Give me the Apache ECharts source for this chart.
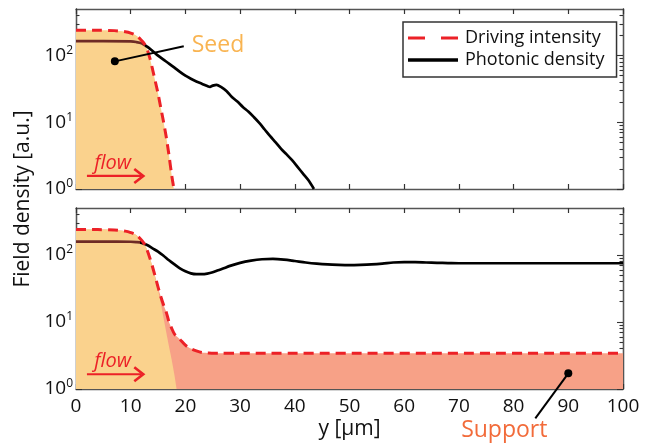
<!DOCTYPE html>
<html><head><meta charset="utf-8">
<script src="https://cdn.jsdelivr.net/npm/echarts@6/dist/echarts.min.js"></script>
<style>html,body{margin:0;padding:0;background:#fff}#c{width:651px;height:445px}</style>
</head><body><div id="c"></div>
<script>
// ---- data ----
const xTickLabels = [0,10,20,30,40,50,60,70,80,90,100];
const yMajorTicks = [1,10,100];
const yMinorTicks = [2,3,4,5,6,7,8,9,20,30,40,50,60,70,80,90,200,300,400];

// top panel: driving intensity (= seed)
const xDriveTop = [0,4,7,9,10,11,12,12.5,13,13.5,14,14.5,15,15.5,16,16.5,17,17.5,17.9];
const driveTop  = [240,240,237,228,218,200,168,150,125,92,62,41,27,16.5,10.2,6,3.2,1.6,1];

// top panel: photonic density
const xPhotTop = [0,5,10,11,12,13,14,15,16,17,18,19,20,21,22,23,24,24.5,25,25.7,26.5,27.5,28.5,29.5,30.5,31.5,32.5,33.5,34.5,35.5,36.5,37.5,38.5,39.5,40.5,41.5,42.5,43.5];
const photTop  = [165,165,163,160,153,136,117,100,87,76,66,57,50,45,41,38,35,34,35.5,36.5,34,29.5,24,20.5,17,14.5,12,9.8,7.8,6.2,5.0,4.0,3.3,2.7,2.15,1.7,1.35,1.0];

// bottom panel: driving intensity (seed + support)
const xDriveBot = [0,4,7,9,10,11,12,12.5,13,13.5,14,14.5,15,15.5,16,16.5,17,17.5,18,18.5,19,20,21,22,23,24,26,30,100];
const driveBot  = [238,238,235,226,215,198,165,145,118,90,66,47,33,24,18,14,10,8,6.6,6,5.5,4.5,4.0,3.7,3.5,3.45,3.4,3.4,3.4];

// bottom panel: seed part
const xSeedBot = [0,4,7,9,10,11,12,12.5,13,13.5,14,14.5,15,15.5,16,16.5,17,17.5,18,18.4];
const seedBot  = [238,238,235,226,215,198,165,145,118,90,66,45,30,19,11.5,7,4.3,2.7,1.6,1];

// bottom panel: photonic density
const xPhotBot = [0,5,10,11,12,13,14,15,16,17,18,19,20,21,22,23,24,25,26,27,28,30,32,34,36,38,40,42,44,46,48,50,52,54,56,58,60,62,64,66,68,70,80,90,100];
const photBot  = [158,158,157,155,151,140,125,112,97,83,72,63,57,53,51.5,51.5,52.5,55,59,63,68,76,82,86,87,85,81,77,74,72,71,70.5,71,72,74,77,78,78,77,76,75.5,75,75,75,75];

// x where the photonic line leaves the seed fill (line looks darker inside)
const seedEdgeTop = 12.8, seedEdgeBot = 12.1;

const FONT = '"Open Sans", "DejaVu Sans", sans-serif';
const pairs = (xs, ys) => xs.map((x, i) => [x, ys[i]]);

function xAx(grid, pos, showLabel) {
  return {
    type: 'value', gridIndex: grid, position: pos, min: 0, max: 100, interval: 10,
    axisLine: { show: true, onZero: false, lineStyle: { color: '#555', width: 1.3 } },
    axisTick: { show: true, inside: true, length: 5, lineStyle: { color: '#333', width: 1.2 } },
    axisLabel: { show: showLabel, fontSize: 19, color: '#111', margin: 8, fontFamily: FONT,
      formatter: v => xTickLabels.indexOf(v) >= 0 ? String(v) : '' },
    splitLine: { show: false }
  };
}
function yAx(grid, pos, major, showLabel) {
  return {
    type: 'log', logBase: 10, gridIndex: grid, position: pos, min: 1, max: 500,
    axisLine: { show: true, onZero: false, lineStyle: { color: '#555', width: 1.3 } },
    axisTick: { show: true, inside: true, length: major ? 6 : 3.5,
      customValues: major ? yMajorTicks : yMinorTicks,
      lineStyle: { color: '#333', width: 1.1 } },
    axisLabel: {
      show: showLabel, customValues: yMajorTicks, margin: 3, color: '#111', fontFamily: FONT,
      formatter: v => {
        const e = Math.round(Math.log10(v));
        if (Math.abs(Math.log10(v) - e) > 1e-6) return '';
        return '{b|10}{s|' + e + '}';
      },
      rich: {
        b: { fontSize: 19, fontFamily: FONT, color: '#111' },
        s: { fontSize: 12, fontFamily: FONT, color: '#111', padding: [0, 0, 10, 0] }
      }
    },
    splitLine: { show: false }
  };
}

const ORANGE = '#FAD28D', SALMON = '#F7A187', RED = '#EC2127', MAROON = '#6e2b25';
function splitColor(xs, edge) {
  const s = (edge - xs[0]) / (xs[xs.length - 1] - xs[0]);
  return new echarts.graphic.LinearGradient(0, 0, 1, 0, [
    { offset: 0, color: MAROON }, { offset: s, color: MAROON },
    { offset: s, color: '#000' }, { offset: 1, color: '#000' }
  ]);
}

const option = {
  animation: false,
  backgroundColor: '#fff',
  grid: [
    { left: 76, top: 9, width: 547, height: 180, containLabel: false, outerBoundsMode: 'none' },
    { left: 76, top: 208, width: 547, height: 181, containLabel: false, outerBoundsMode: 'none' }
  ],
  xAxis: [
    xAx(0, 'bottom', false), xAx(0, 'top', false),
    Object.assign(xAx(1, 'bottom', true), { name: 'y [μm]', nameLocation: 'middle', nameGap: 30,
      nameTextStyle: { fontSize: 21, fontFamily: FONT, color: '#111' } }),
    xAx(1, 'top', false)
  ],
  yAxis: [
    yAx(0, 'left', true, true), yAx(0, 'left', false, false),
    yAx(0, 'right', true, false), yAx(0, 'right', false, false),
    yAx(1, 'left', true, true), yAx(1, 'left', false, false),
    yAx(1, 'right', true, false), yAx(1, 'right', false, false)
  ],
  legend: {
    show: true, left: 403, top: 22, orient: 'vertical', selectedMode: false,
    data: [
      { name: 'Driving intensity', icon: 'none' },
      { name: 'Photonic density', icon: 'none' }
    ],
    itemWidth: 50, itemHeight: 14, itemGap: 2, padding: [6, 12, 7, 5],
    borderColor: '#333', borderWidth: 1.5, borderRadius: 0, backgroundColor: '#fff',
    textStyle: { fontSize: 18, fontFamily: FONT, color: '#111', lineHeight: 20, padding: [0, 0, 0, 2] }
  },
  series: [
    { type: 'line', xAxisIndex: 0, yAxisIndex: 0, data: pairs(xDriveTop, driveTop),
      smooth: 0.3, symbol: 'none', silent: true, lineStyle: { width: 0 },
      areaStyle: { color: ORANGE, opacity: 1 } },
    { type: 'line', name: 'Photonic density', xAxisIndex: 0, yAxisIndex: 0, data: pairs(xPhotTop, photTop),
      smooth: 0.3, symbol: 'none', showSymbol: false,
      lineStyle: { color: splitColor(xPhotTop, seedEdgeTop), width: 2.7 }, itemStyle: { color: '#000' } },
    { type: 'line', name: 'Driving intensity', xAxisIndex: 0, yAxisIndex: 0, data: pairs(xDriveTop, driveTop),
      smooth: 0.3, symbol: 'none', showSymbol: false,
      lineStyle: { color: RED, width: 3, type: [10, 6] }, itemStyle: { color: RED } },

    { type: 'line', xAxisIndex: 2, yAxisIndex: 4, data: pairs(xDriveBot, driveBot),
      smooth: 0.3, symbol: 'none', silent: true, lineStyle: { width: 0 },
      areaStyle: { color: SALMON, opacity: 1 } },
    { type: 'line', xAxisIndex: 2, yAxisIndex: 4, data: pairs(xSeedBot, seedBot),
      smooth: 0.3, symbol: 'none', silent: true, lineStyle: { width: 0 },
      areaStyle: { color: ORANGE, opacity: 1 } },
    { type: 'line', name: 'Photonic density', xAxisIndex: 2, yAxisIndex: 4, data: pairs(xPhotBot, photBot),
      smooth: 0.3, symbol: 'none', showSymbol: false,
      lineStyle: { color: splitColor(xPhotBot, seedEdgeBot), width: 2.7 }, itemStyle: { color: '#000' } },
    { type: 'line', name: 'Driving intensity', xAxisIndex: 2, yAxisIndex: 4, data: pairs(xDriveBot, driveBot),
      smooth: 0.3, symbol: 'none', showSymbol: false,
      lineStyle: { color: RED, width: 3, type: [10, 6] }, itemStyle: { color: RED } }
  ]
};

const chart = echarts.init(document.getElementById('c'), null, { renderer: 'canvas' });
chart.setOption(option);

const P = (si, x, y) => chart.convertToPixel({ seriesIndex: si }, [x, y]);
function arrow(a, b) {
  return [
    { type: 'line', shape: { x1: a[0], y1: a[1], x2: b[0] - 2, y2: b[1] }, style: { stroke: RED, lineWidth: 2.2 }, z: 100 },
    { type: 'polyline', shape: { points: [[b[0] - 9, b[1] - 7], [b[0], b[1]], [b[0] - 9, b[1] + 7]] },
      style: { stroke: RED, lineWidth: 2.6, fill: null }, z: 100 }
  ];
}
const dotS = P(0, 7.1, 82), endS = P(0, 19.7, 138);
const dotP = P(3, 90, 1.71);
const endP = [dotP[0] - 33, dotP[1] + 45];
const aT0 = P(0, 2.0, 1.57), aT1 = P(0, 12.3, 1.57);
const aB0 = P(3, 2.0, 1.66), aB1 = P(3, 12.3, 1.66);
const fT = P(0, 6.7, 2.46), fB = P(3, 6.7, 2.55);

const g = [];
g.push({ type: 'line', shape: { x1: dotS[0], y1: dotS[1], x2: endS[0], y2: endS[1] }, style: { stroke: '#000', lineWidth: 2 }, z: 100 });
g.push({ type: 'circle', shape: { cx: dotS[0], cy: dotS[1], r: 4 }, style: { fill: '#000' }, z: 100 });
g.push({ type: 'text', x: endS[0] + 8, y: endS[1] - 1, style: { text: 'Seed', fill: '#F9B451', font: '23px ' + FONT, textAlign: 'left', textVerticalAlign: 'middle', verticalAlign: 'middle' }, z: 100 });
g.push({ type: 'line', shape: { x1: dotP[0], y1: dotP[1], x2: endP[0], y2: endP[1] }, style: { stroke: '#000', lineWidth: 2 }, z: 100 });
g.push({ type: 'circle', shape: { cx: dotP[0], cy: dotP[1], r: 4 }, style: { fill: '#000' }, z: 100 });
g.push({ type: 'text', x: dotP[0] - 64, y: dotP[1] + 57, style: { text: 'Support', fill: '#F26B3A', font: '23px ' + FONT, textAlign: 'center', textVerticalAlign: 'middle', verticalAlign: 'middle' }, z: 100 });
arrow(aT0, aT1).forEach(e => g.push(e));
arrow(aB0, aB1).forEach(e => g.push(e));
g.push({ type: 'text', x: fT[0], y: fT[1], style: { text: 'flow', fill: RED, font: 'italic 20px ' + FONT, textAlign: 'center', textVerticalAlign: 'middle', verticalAlign: 'middle' }, z: 100 });
g.push({ type: 'text', x: fB[0], y: fB[1], style: { text: 'flow', fill: RED, font: 'italic 20px ' + FONT, textAlign: 'center', textVerticalAlign: 'middle', verticalAlign: 'middle' }, z: 100 });
g.push({ type: 'text', x: 23, y: 199, rotation: Math.PI / 2, style: { text: 'Field density [a.u.]', fill: '#111', font: '21px ' + FONT, textAlign: 'center', textVerticalAlign: 'middle', verticalAlign: 'middle' }, z: 100 });
// legend samples: dashed red and solid black next to the legend texts
g.push({ type: 'line', shape: { x1: 408, y1: 38, x2: 458, y2: 38 }, style: { stroke: RED, lineWidth: 3, lineDash: [17, 16] }, z: 110 });
g.push({ type: 'line', shape: { x1: 408, y1: 60, x2: 458, y2: 60 }, style: { stroke: '#000', lineWidth: 3.5 }, z: 110 });

chart.setOption({ graphic: { elements: g } });
</script>
</body></html>
